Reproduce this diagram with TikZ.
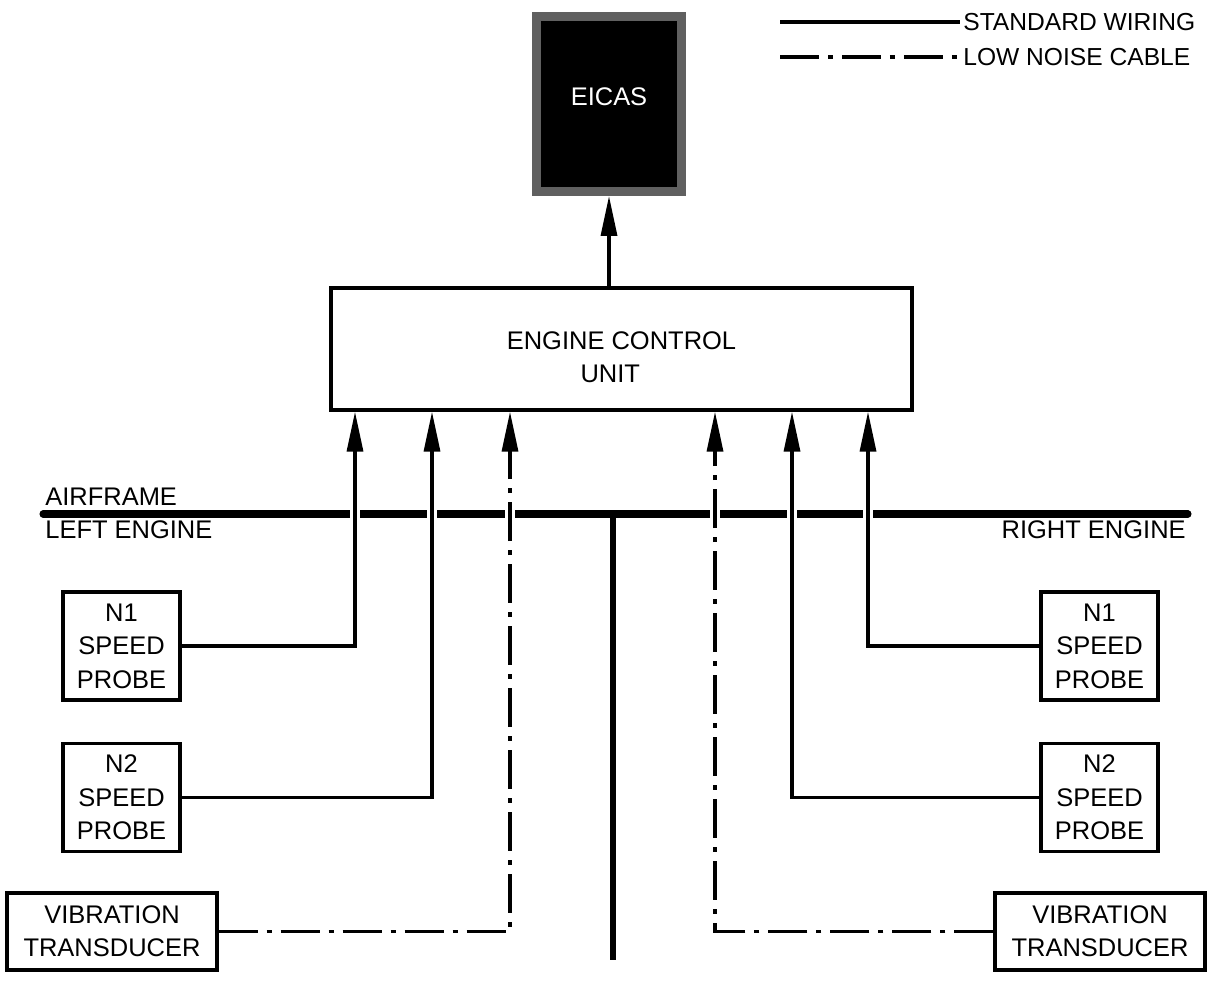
\documentclass[tikz,border=0pt]{standalone}
\usepackage{fontspec}
\setmainfont{Liberation Sans}
\usetikzlibrary{arrows.meta}
\definecolor{framegray}{RGB}{96,96,96}

\begin{document}
\begin{tikzpicture}[x=0.02cm,y=-0.02cm,
  font=\fontsize{14.5}{19}\selectfont,
  unitbox/.style={draw, line width=1.9pt, align=center, inner sep=0pt},
  wire/.style={line width=1.9pt},
  lownoise/.style={line width=1.9pt, dash pattern=on 0.78cm off 0.18cm on 0.1cm off 0.18cm},
  sig/.style={-{Triangle[length=0.8cm,width=0.32cm]}},
  airframe/.style={line width=4pt, line cap=round},
  lbl/.style={inner sep=0pt}]
\useasboundingbox (0,0) rectangle (1216,988);

% display and control unit
\node[draw=framegray, fill=black, line width=0.18cm, minimum width=2.9cm,
      minimum height=3.5cm,
      label={[text=white, yshift=0.14cm]center:EICAS}] (eicas) at (609,104) {};
\node[unitbox, minimum width=11.62cm, minimum height=2.44cm,
      label={[align=center, yshift=-0.16cm]center:ENGINE CONTROL\\UNIT\hspace*{0.45cm}}]
      (ecu) at (621.5,349) {};
\draw[wire,sig] (eicas.south |- ecu.north) -- (eicas.south);

% airframe / engine boundary
\coordinate (afL) at (43,514);
\coordinate (afR) at (1188,514);
\draw[airframe] (afL) -- (afR);
\foreach \px in {355,432,510,715,792,868}
  \fill[white] (\px-5,508) rectangle (\px+5,520);
\draw[line width=3.3pt] (613,514) -- (613,960);
\node[lbl, anchor=west] (afT) at (45,497) {AIRFRAME};
\node[lbl, anchor=west] (leT) at (45,530) {LEFT ENGINE};
\node[lbl, anchor=east] (reT) at (1186,530) {RIGHT ENGINE};

% left engine sensors
\node[unitbox, minimum width=2.34cm, minimum height=2.16cm] (n1L) at (121.5,646) {N1\\SPEED\\PROBE};
\node[unitbox, minimum width=2.34cm, minimum height=2.16cm] (n2L) at (121.5,797.5) {N2\\SPEED\\PROBE};
\node[unitbox, minimum width=4.2cm, minimum height=1.54cm] (vibL) at (112,931.5) {VIBRATION\\TRANSDUCER};

% right engine sensors
\node[unitbox, minimum width=2.34cm, minimum height=2.16cm] (n1R) at (1099.5,646) {N1\\SPEED\\PROBE};
\node[unitbox, minimum width=2.34cm, minimum height=2.16cm] (n2R) at (1099.5,797.5) {N2\\SPEED\\PROBE};
\node[unitbox, minimum width=4.2cm, minimum height=1.54cm] (vibR) at (1100,931.5) {VIBRATION\\TRANSDUCER};

% wiring to the ECU
\draw[wire,sig] (n1L.east) -| (355,0 |- ecu.south);
\draw[wire,sig] (n2L.east) -| (432,0 |- ecu.south);
\draw[lownoise,sig] (vibL.east) -| (510,0 |- ecu.south);
\draw[wire,sig] (n1R.west) -| (868,0 |- ecu.south);
\draw[wire,sig] (n2R.west) -| (792,0 |- ecu.south);
\draw[lownoise,sig] (vibR.west) -| (715,0 |- ecu.south);

% legend
\node[lbl, anchor=west, font=\fontsize{14}{17}\selectfont] (lgStd) at (963,22) {STANDARD WIRING};
\node[lbl, anchor=west, font=\fontsize{14}{17}\selectfont] (lgLow) at (963,57) {LOW NOISE CABLE};
\coordinate (lgA) at (780,22);
\coordinate (lgB) at (780,57);
\draw[wire] (lgA) -- ([xshift=-0.06cm]lgStd.west);
\draw[lownoise] (lgB) -- ([xshift=-0.06cm]lgLow.west);
\end{tikzpicture}
\end{document}
